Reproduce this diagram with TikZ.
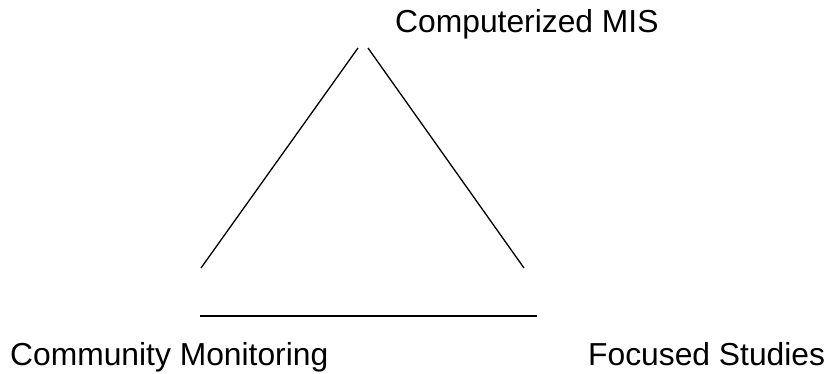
\documentclass[tikz,border=0pt]{standalone}
\usepackage{fontspec}
\setmainfont{Liberation Sans}
\begin{document}
\begin{tikzpicture}[x=1pt,y=-1pt,
  label/.style={inner sep=0pt,anchor=base west,font=\fontsize{31.8}{36}\selectfont},
  edge/.style={line width=1.3pt,black}]
\useasboundingbox (0,0) rectangle (825,374);
% corner labels
\node[label] (mis) at (395,33) {Computerized MIS};
\node[label] (cm)  at (10,365) {Community Monitoring};
\node[label] (fs)  at (588,365) {Focused Studies};
% end points of the three sides
\coordinate (lt) at (358,48);
\coordinate (lb) at (201,268);
\coordinate (rt) at (368,48);
\coordinate (rb) at (524,268);
\coordinate (bl) at (200,316);
\coordinate (br) at (537,316);
\draw[edge] (lb) -- (lt);
\draw[edge] (rt) -- (rb);
\draw[edge] (bl) -- (br);
\end{tikzpicture}
\end{document}
